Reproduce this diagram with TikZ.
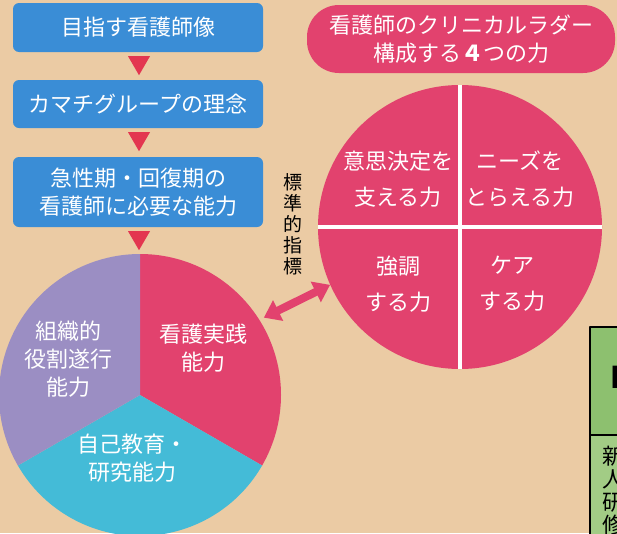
\documentclass[tikz,border=0pt]{standalone}
\usepackage{fontspec}
\setmainfont{Noto Sans CJK JP}
\usetikzlibrary{arrows.meta,calc}
\definecolor{corkbg}{HTML}{EBCBA4}
\definecolor{goalblue}{HTML}{3A8DD6}
\definecolor{stepred}{HTML}{E33650}
\definecolor{ladderpink}{HTML}{E2426E}
\definecolor{rolepurple}{HTML}{9B8EC3}
\definecolor{studycyan}{HTML}{44BBD7}
\definecolor{tablegreen}{HTML}{8DC06F}
\definecolor{tablelight}{HTML}{A2CC85}

\begin{document}
\begin{tikzpicture}[
  x=1pt,
  y=-1pt,
  line join=round,
  bluebox/.style={fill=goalblue,rounded corners=6pt,minimum width=250pt,inner sep=0pt,
    text=white,align=center,font=\fontsize{22}{28}\selectfont},
  steptri/.style={fill=stepred},
  whitetext/.style={text=white,align=center,inner sep=0pt,font=\fontsize{22}{28}\selectfont},
  quadtext/.style={text=white,align=center,inner sep=0pt,font=\fontsize{22}{36}\selectfont},
  twoway/.style={draw=ladderpink,line width=8pt,
    {Triangle[length=16pt,width=22pt]}-{Triangle[length=16pt,width=22pt]}}
]
  % Frame of the artwork, cut at the page edge.
  \useasboundingbox (0,0) rectangle (617,533);
  \clip (0,0) rectangle (617,533);
  \fill[corkbg] (0,0) rectangle (617,533);

  % Left column: goal, philosophy, required ability.
  \node[bluebox,minimum height=49pt] (goal) at (138,27.5) {目指す看護師像};
  \node[bluebox,minimum height=48pt] (philo) at (138,104) {カマチグループの理念};
  \node[bluebox,minimum height=70pt] (ability) at (138,192) {急性期・回復期の\\看護師に必要な能力};
  \foreach \n in {goal,philo,ability} {
    \fill[steptri] ($(\n.south)+(-10,4)$) -- ($(\n.south)+(12,4)$) -- ($(\n.south)+(1,23)$) -- cycle;
  }

  % Three-part pie of abilities.
  \coordinate (pie) at (140,395);
  \fill[ladderpink] (pie) -- ++(-90:141) arc[start angle=-90,end angle=30,radius=141] -- cycle;
  \fill[studycyan] (pie) -- ++(30:141) arc[start angle=30,end angle=150,radius=141] -- cycle;
  \fill[rolepurple] (pie) -- ++(150:141) arc[start angle=150,end angle=270,radius=141] -- cycle;
  \node[whitetext] (practice) at (203,348) {看護実践\\能力};
  \node[whitetext] (role) at (68,359) {組織的\\役割遂行\\能力};
  \node[whitetext] (study) at (132,458) {自己教育・\\研究能力};

  % Right: clinical ladder and its four powers.
  \node[fill=ladderpink,rounded corners=32pt,minimum width=308pt,minimum height=68pt,
    whitetext] (laddertitle) at (461,39) {看護師のクリニカルラダー\\構成する{\bfseries ４}つの力};
  \node[circle,fill=ladderpink,minimum size=284pt,inner sep=0pt] (ladder) at (460,227) {};
  \draw[white,line width=4pt] (ladder.north) -- (ladder.south) (ladder.west) -- (ladder.east);
  \node[quadtext] (decide) at ($(ladder)+(-62,-48)$) {意思決定を\\支える力};
  \node[quadtext] (needs) at ($(ladder)+(60,-48)$) {ニーズを\\とらえる力};
  \node[quadtext] (advocate) at ($(ladder)+(-62,57)$) {強調\\する力};
  \node[quadtext] (care) at ($(ladder)+(52,57)$) {ケア\\する力};

  % Link between the pie and the ladder.
  \node[align=center,inner sep=0pt,font=\fontsize{19}{21}\selectfont] (index) at (293,224) {標\\準\\的\\指\\標};
  \coordinate (pieedge) at ($(pie)+(-32:146)$);
  \draw[twoway] (pieedge) -- (ladder.204);

  % Table cut off at the right edge.
  \draw[line width=2pt,fill=tablegreen] (590,327) rectangle (640,435);
  \draw[line width=2pt,fill=tablelight] (590,435) rectangle (640,560);
  \node[anchor=west,inner sep=0pt,font=\fontsize{30}{30}\bfseries] (grade) at (610,377) {I};
  \node[anchor=north west,align=left,inner sep=0pt,font=\fontsize{22}{23}\selectfont] (newstaff) at (602,446) {新\\人\\研\\修};
\end{tikzpicture}
\end{document}
